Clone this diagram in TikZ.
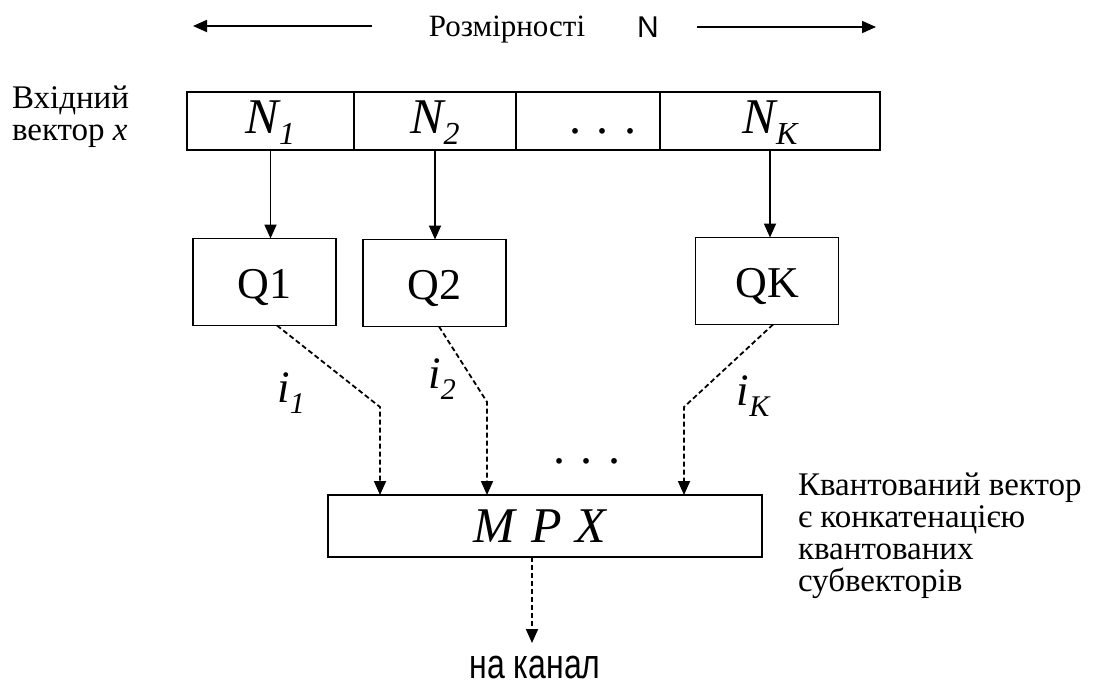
\documentclass[tikz,border=0pt]{standalone}
\usepackage{fontspec}
\setmainfont{Liberation Serif}
\newfontfamily\sansfont{Liberation Sans}
\usetikzlibrary{arrows.meta}

% italic symbol with a lowered italic index
\newcommand{\idx}[4]{{\fontsize{#3}{#3}\selectfont\itshape #1\raisebox{-5.5pt}{\fontsize{#4}{#4}\selectfont #2}}}
\newcommand{\threedots}{{\fontsize{24}{24}\selectfont .\hspace{8pt}.\hspace{8pt}.}}

\begin{document}
\begin{tikzpicture}[x=0.5pt,y=-0.5pt,
  every node/.style={inner sep=0pt, outer sep=0pt},
  cell/.style={draw, line width=0.9pt, minimum height=29pt},
  qbox/.style={draw, line width=0.9pt, minimum width=71.5pt, minimum height=43.5pt,
    text height=16pt, text depth=0pt, font=\fontsize{22}{22}\selectfont},
  link/.style={line width=0.9pt, -{Triangle[length=7pt,width=6pt]}},
  dlink/.style={link, dash pattern=on 2.5pt off 1.5pt},
  txt/.style={font=\fontsize{16.5}{16}\selectfont, align=left},
]
\useasboundingbox (0,0) rectangle (1095,686);

% dimension arrow along the top
\node[anchor=base] (dimtxt) at (507,36) {\fontsize{15.5}{15.5}\selectfont Розмірності};
\node[anchor=base] (dimN) at (648,37) {\sansfont\fontsize{15}{15}\selectfont N};
\coordinate (la) at (372,26);
\coordinate (lt) at (193,26);
\coordinate (ra) at (697,27);
\coordinate (rt) at (876,27);
\draw[link] (la) -- (lt);
\draw[link] (ra) -- (rt);

% input vector split into sub-vectors
\node[txt, anchor=base west] (inlbl) at (12,140) {Вхідний\\вектор \textit{x}};
\node[cell, minimum width=83.5pt] (c1) at (270.5,121) {};
\node[cell, minimum width=81pt] (c2) at (435,121) {};
\node[cell, minimum width=72pt] (c3) at (588,121) {};
\node[cell, minimum width=110pt] (c4) at (770,121) {};
\node[anchor=base] (n1) at (c1 |- 0,133) {\idx{N}{1}{25}{16}};
\node[anchor=base] (n2) at (c2 |- 0,133) {\idx{N}{2}{25}{16}};
\node[anchor=base] (nK) at (c4 |- 0,133) {\idx{N}{K}{25}{16}};
\node[anchor=base] (cdots) at (603,133) {\threedots};

% sub-vector quantizers
\node[qbox] (Q1) at (264.5,282) {Q1};
\node[qbox] (Q2) at (434.5,283) {Q2};
\node[qbox] (QK) at (767,281) {QK};

\draw[link] (c1.south) -- (c1.south |- Q1.north);
\draw[link] (c2.south) -- (c2.south |- Q2.north);
\draw[link] (c4.south) -- (c4.south |- QK.north);

% multiplexer
\node[draw, line width=0.9pt, minimum width=217pt, minimum height=31pt,
  text height=16pt, text depth=0pt] (MPX) at (545,526)
  {\fontsize{25}{25}\selectfont\itshape M\hspace{8pt}P\hspace{7pt}X\hspace*{5pt}};

\coordinate (b1) at (380,407);
\coordinate (b2) at (487,402);
\coordinate (bK) at (684,407);
\draw[dlink] ([xshift=6.25pt]Q1.south) -- (b1) -- (b1 |- MPX.north);
\draw[dlink] ([xshift=2.25pt]Q2.south) -- (b2) -- (b2 |- MPX.north);
\draw[dlink] ([xshift=3pt]QK.south) -- (bK) -- (bK |- MPX.north);

\node[anchor=base] (i1) at (291,402) {\idx{i}{1}{22.5}{15}};
\node[anchor=base] (i2) at (442,388) {\idx{i}{2}{22.5}{15}};
\node[anchor=base] (iK) at (753,405) {\idx{i}{K}{22.5}{15}};
\node[anchor=base] (mdots) at (587,463) {\threedots};

% output to the channel
\coordinate (outp) at (532,643);
\draw[dlink] (MPX.south -| outp) -- (outp);
\node[anchor=base] (chan) at (535,678)
  {\sansfont\fontsize{16}{16}\selectfont\scalebox{1}[1.3]{на канал}};

\node[txt, anchor=base west] (note) at (798,591)
  {Квантований вектор\\є конкатенацією\\квантованих\\субвекторів};
\end{tikzpicture}
\end{document}
